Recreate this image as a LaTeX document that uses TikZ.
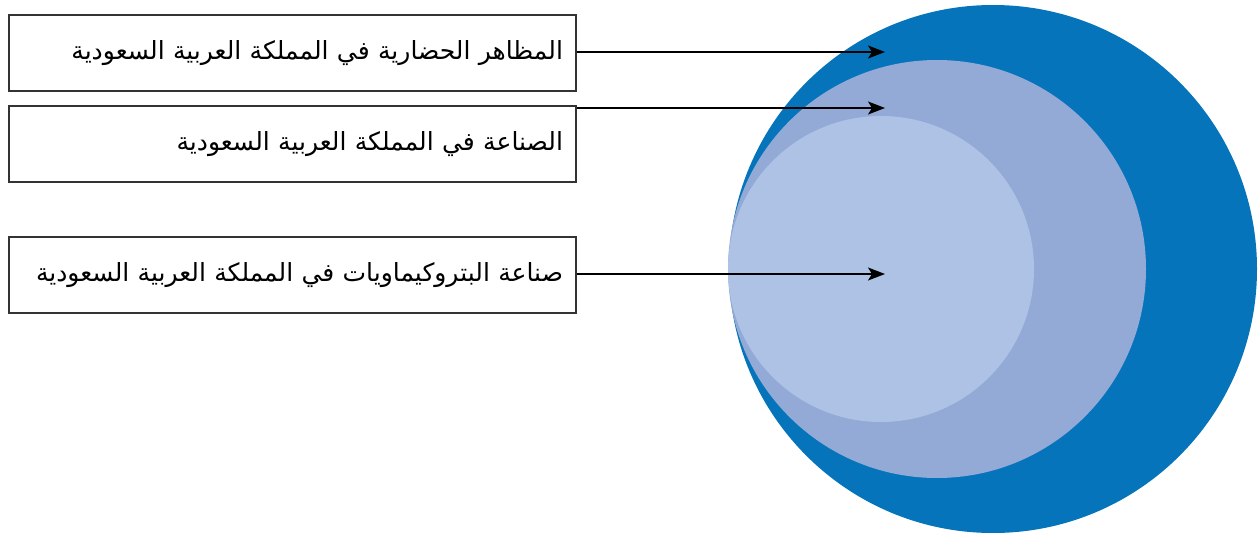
\documentclass[tikz,border=0pt]{standalone}
\usepackage{fontspec}
\newfontfamily\arabicfont[Script=Arabic]{DejaVu Sans}
\TeXXeTstate=1
\usetikzlibrary{arrows.meta}
\definecolor{ringdark}{RGB}{5,116,187}
\definecolor{ringmid}{RGB}{147,170,214}
\definecolor{ringlight}{RGB}{173,194,228}
\tikzset{
    labelbox/.style={draw=black!80, line width=1.2pt, minimum height=76pt,
        text width=541pt, inner xsep=13pt, align=right,
        font=\arabicfont\fontsize{25}{30}\selectfont},
    pointer/.style={-{Stealth[length=17pt,width=13pt,inset=4pt]}, line width=1.6pt}
}
\begin{document}
\begin{tikzpicture}[x=1pt,y=-1pt]
        \useasboundingbox (0,0) rectangle (1259,533);

        % nested rings
        \fill[ringdark] (993,269) circle (264pt);
        \fill[ringmid] (937,269) circle (209pt);
        \fill[ringlight] (881,269) circle (153pt);

        \node[labelbox] (box1) at (292.5,53) {\beginR المظاهر الحضارية في المملكة العربية السعودية\endR};
        \node[labelbox] (box2) at (292.5,144) {\beginR الصناعة في المملكة العربية السعودية\endR};
        \node[labelbox] (box3) at (292.5,275) {\beginR صناعة البتروكيماويات في المملكة العربية السعودية\endR};

        \coordinate (tip1) at (885,52);
        \coordinate (tip2) at (885,108);
        \coordinate (tip3) at (885,274);

        \draw[pointer] (box1.east |- tip1) -- (tip1);
        \draw[pointer] (box2.east |- tip2) -- (tip2);
        \draw[pointer] (box3.east |- tip3) -- (tip3);
    \end{tikzpicture}
\end{document}
